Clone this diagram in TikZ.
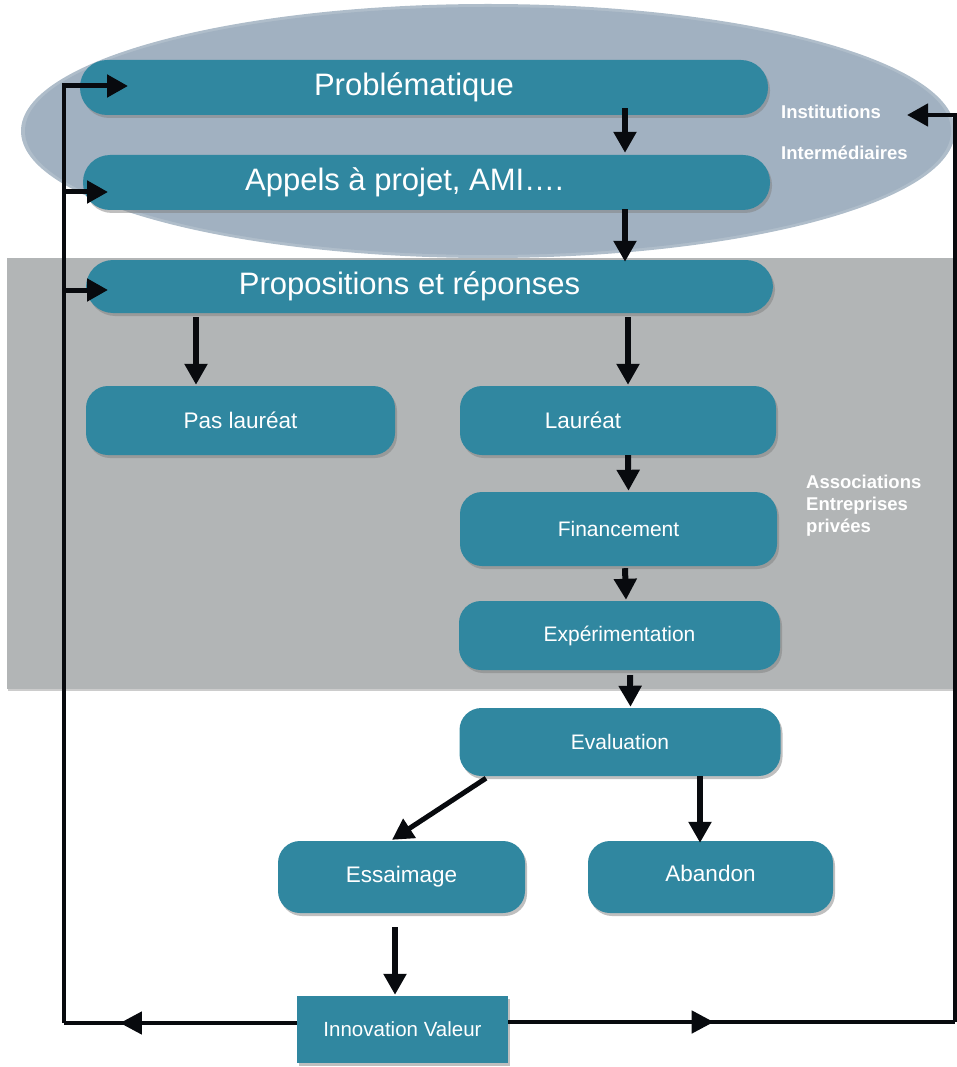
\documentclass[tikz,border=0pt]{standalone}
\usepackage{fontspec}
\setmainfont{Liberation Sans}
\usetikzlibrary{arrows.meta,shadows,decorations.markings}
\definecolor{teal}{RGB}{48,135,160}
\definecolor{ellip}{RGB}{161,177,193}
\definecolor{grayzone}{RGB}{178,181,182}
\definecolor{arr}{RGB}{8,10,14}
\tikzset{
  box/.style={draw=none, fill=teal, rounded corners=#1, inner sep=0pt, text=white,
    drop shadow={opacity=0.5, shadow xshift=2pt, shadow yshift=-3pt}},
  box/.default=22pt,
  bigtxt/.style={font=\fontsize{31}{35}\selectfont},
  midtxt/.style={font=\fontsize{21}{25}\selectfont},
  mid2txt/.style={font=\fontsize{22.5}{26}\selectfont},
  sidetxt/.style={font=\bfseries\fontsize{18.5}{23}\selectfont, text=white, align=left, anchor=west, inner sep=0pt},
  flow/.style={draw=arr, line width=6pt, -{Triangle[width=22pt,length=21pt]}},
  loopline/.style={draw=arr, line width=4.5pt},
  midarrow/.style={postaction={decorate}, decoration={markings, mark=at position #1 with {\arrow[arr]{Triangle[width=22pt,length=22pt]}}}},
}
\begin{document}
\begin{tikzpicture}[x=1pt,y=-1pt]
\useasboundingbox (0,0) rectangle (957,1067);
% background zones
\fill[ellip!85!white] (488,131) ellipse [x radius=467, y radius=127];
\fill[ellip] (488,131) ellipse [x radius=463, y radius=124];
\fill[grayzone, drop shadow={opacity=0.4, shadow xshift=1pt, shadow yshift=-2pt}] (7,258) rectangle (953,689);

% nodes
\node[box=27pt, bigtxt, minimum width=688pt, minimum height=55pt] (prob) at (424,87.5) {\hspace*{-20pt}Problématique};
\node[box=27pt, bigtxt, minimum width=687pt, minimum height=55pt] (appels) at (426.5,182.5) {\hspace*{-44pt}Appels à projet, AMI….};
\node[box=27pt, bigtxt, minimum width=687pt, minimum height=53pt] (props) at (429.5,286.5) {\hspace*{-40pt}Propositions et réponses};
\node[box, mid2txt, minimum width=309pt, minimum height=69pt] (pas) at (240.5,420.5) {Pas lauréat};
\node[box, mid2txt, minimum width=316pt, minimum height=69pt] (laur) at (618,420.5) {\hspace*{-70pt}Lauréat};
\node[box, midtxt, minimum width=317pt, minimum height=74pt] (fin) at (618.5,529) {Financement};
\node[box, midtxt, minimum width=321pt, minimum height=69pt] (exp) at (619.5,635.5) {Expérimentation};
\node[box, midtxt, minimum width=321pt, minimum height=68pt] (eval) at (620,742) {Evaluation};
\node[box, mid2txt, minimum width=247pt, minimum height=72pt] (ess) at (401.5,877) {Essaimage};
\node[box, mid2txt, minimum width=245pt, minimum height=72pt] (aban) at (710.5,877) {\raisebox{7pt}{Abandon}};
\node[box=0pt, font=\fontsize{20.5}{24}\selectfont, minimum width=211pt, minimum height=67pt] (inno) at (402.5,1029.5) {Innovation Valeur};

% side labels
\node[sidetxt] (inst) at (781,112) {Institutions};
\node[sidetxt] (inter) at (781,153) {Intermédiaires};
\node[sidetxt] (assoc) at (806,506) {Associations\\[-1pt]Entreprises\\[-1pt]privées};

% flow arrows
\draw[flow] ([xshift=201pt,yshift=7pt]prob.south) -- ([xshift=198.5pt,yshift=2pt]appels.north);
\draw[flow] ([xshift=198.5pt,yshift=1pt]appels.south) -- ([xshift=195.5pt,yshift=-2pt]props.north);
\draw[flow] ([xshift=-233.5pt,yshift=-4pt]props.south) -- ([xshift=-44.5pt,yshift=1pt]pas.north);
\draw[flow] ([xshift=198.5pt,yshift=-4pt]props.south) -- ([xshift=10pt,yshift=1pt]laur.north);
\draw[flow] ([xshift=10pt]laur.south) -- ([xshift=10pt,yshift=1pt]fin.north);
\draw[flow] ([xshift=6.5pt,yshift=-2pt]fin.south) -- ([xshift=6.5pt,yshift=1pt]exp.north);
\draw[flow] ([xshift=10.5pt,yshift=-5pt]exp.south) -- ([xshift=10.5pt,yshift=1pt]eval.north);
\draw[flow, line width=5pt] ([xshift=-134pt,yshift=-2pt]eval.south) -- ([xshift=-9.5pt,yshift=1pt]ess.north);
\draw[flow] ([xshift=80pt]eval.south) -- ([xshift=-10.5pt,yshift=-2pt]aban.north);
\draw[flow] ([xshift=-6.5pt,yshift=-14pt]ess.south) -- ([xshift=-7.5pt,yshift=1pt]inno.north);

% feedback loops
\coordinate (bl) at (64,1023);
\coordinate (tl) at (64,86);
\coordinate (bl2) at (64,192);
\coordinate (bl3) at (64,290);
\coordinate (tipP) at (128,86);
\coordinate (tipA) at (108,192);
\coordinate (tipR) at (108,290);
\coordinate (br) at (955,1022);
\coordinate (tr) at (955,115);
\coordinate (tipI) at (907,115);
\draw[loopline, midarrow=0.76] (inno.west |- bl) -- (bl);
\draw[loopline] (bl) -- (tl);
\draw[flow, line width=5pt] ([xshift=-2pt]tl) -- (tipP);
\draw[flow, line width=5pt] (bl2) -- (tipA);
\draw[flow, line width=5pt] (bl3) -- (tipR);
\draw[loopline, midarrow=0.46] (inno.east |- br) -- (br);
\draw[loopline] (br) -- ([yshift=-2pt]tr);
\draw[flow, line width=4.5pt] ([xshift=2pt]tr) -- (tipI);
\end{tikzpicture}
\end{document}
